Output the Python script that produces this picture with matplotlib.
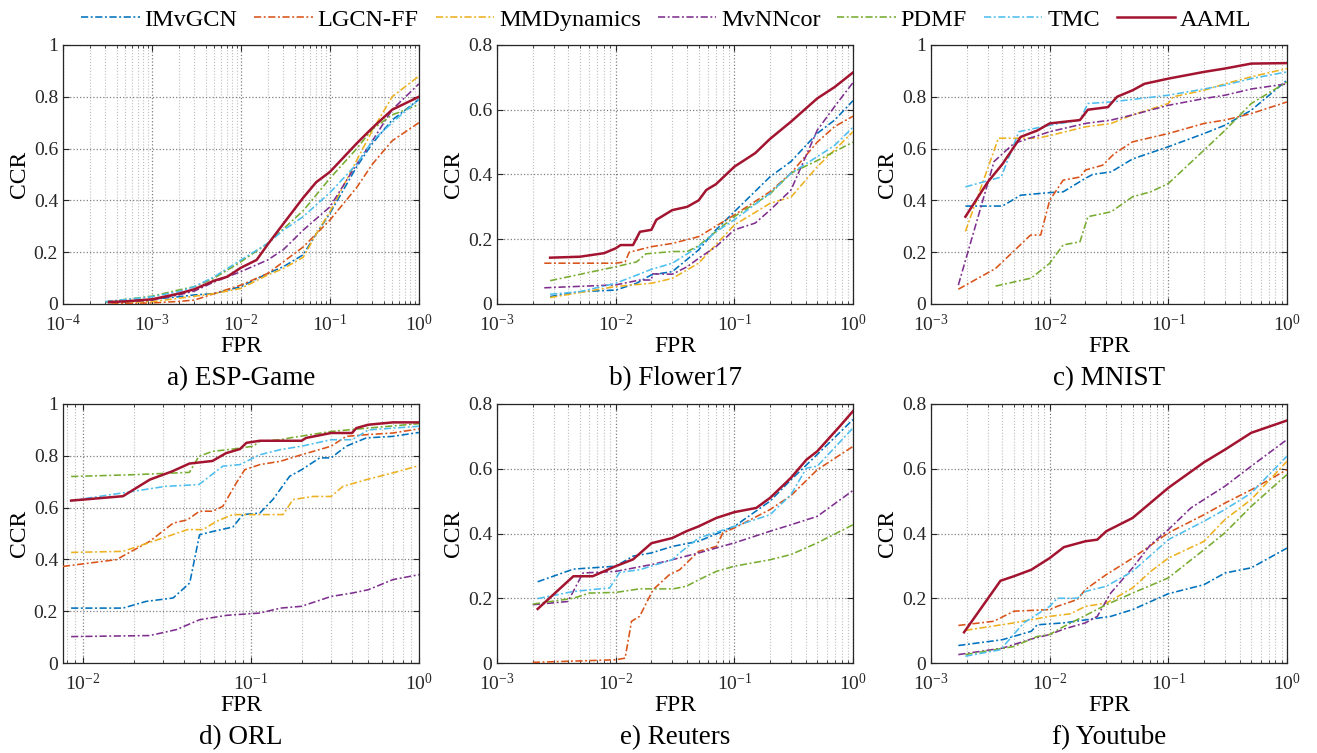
import matplotlib
matplotlib.use("Agg")
import matplotlib.pyplot as plt
import matplotlib.ticker as mticker

plt.rcParams['font.family'] = ['Liberation Serif', 'DejaVu Serif']
plt.rcParams['mathtext.fontset'] = 'stix'

methods = ["IMvGCN", "LGCN-FF", "MMDynamics", "MvNNcor", "PDMF", "TMC", "AAML"]
colors = ["#0072BD", "#D95319", "#EDB120", "#7E2F8E", "#77AC30", "#4DBEEE", "#A2142F"]

#region Data (FPR, CCR) per method
esp = {
    "IMvGCN": ([3e-4, 1e-3, 2e-3, 3e-3, 5e-3, 1e-2, 2e-2, 3e-2, 5e-2, 7e-2, 0.1, 0.2, 0.3, 0.5, 1],
               [0.008, 0.018, 0.028, 0.035, 0.04, 0.067, 0.118, 0.144, 0.19, 0.27, 0.35, 0.53, 0.62, 0.71, 0.79]),
    "LGCN-FF": ([3.5e-4, 1e-3, 2e-3, 3e-3, 5e-3, 1e-2, 2e-2, 3e-2, 5e-2, 0.1, 0.2, 0.3, 0.5, 1],
                [0.002, 0.004, 0.01, 0.015, 0.04, 0.073, 0.118, 0.163, 0.22, 0.324, 0.45, 0.54, 0.63, 0.70]),
    "MMDynamics": ([3.2e-4, 1e-3, 2e-3, 5e-3, 1e-2, 2e-2, 3e-2, 5e-2, 7e-2, 0.1, 0.2, 0.3, 0.5, 1],
                   [0.005, 0.009, 0.022, 0.04, 0.06, 0.112, 0.137, 0.18, 0.27, 0.356, 0.555, 0.67, 0.80, 0.88]),
    "MvNNcor": ([3.2e-4, 1e-3, 2e-3, 3e-3, 5e-3, 1e-2, 2e-2, 3e-2, 5e-2, 0.1, 0.2, 0.3, 0.5, 1],
                [0.005, 0.015, 0.035, 0.05, 0.085, 0.125, 0.17, 0.21, 0.285, 0.375, 0.54, 0.63, 0.75, 0.85]),
    "PDMF": ([3e-4, 1e-3, 2e-3, 3e-3, 5e-3, 1e-2, 2e-2, 3e-2, 5e-2, 0.1, 0.2, 0.3, 0.5, 1],
             [0.008, 0.03, 0.054, 0.067, 0.1, 0.163, 0.234, 0.29, 0.36, 0.485, 0.6, 0.675, 0.73, 0.77]),
    "TMC": ([3e-4, 1e-3, 2e-3, 3e-3, 5e-3, 1e-2, 2e-2, 3e-2, 5e-2, 0.1, 0.2, 0.3, 0.5, 1],
            [0.009, 0.028, 0.048, 0.067, 0.105, 0.17, 0.234, 0.285, 0.337, 0.43, 0.54, 0.63, 0.70, 0.79]),
    "AAML": ([3.3e-4, 5e-4, 1e-3, 2e-3, 3e-3, 5e-3, 7e-3, 1e-2, 1.5e-2, 2e-2, 3e-2, 5e-2, 7e-2, 0.1, 0.2, 0.3, 0.5, 1],
             [0.008, 0.01, 0.018, 0.04, 0.057, 0.09, 0.105, 0.14, 0.17, 0.23, 0.31, 0.41, 0.47, 0.51, 0.62, 0.68, 0.75, 0.80]),
}

flower = {
    "IMvGCN": ([2.8e-3, 5e-3, 1e-2, 1.5e-2, 2e-2, 3e-2, 5e-2, 7e-2, 0.1, 0.2, 0.3, 0.5, 0.7, 1],
               [0.023, 0.038, 0.043, 0.064, 0.09, 0.1, 0.167, 0.229, 0.285, 0.393, 0.44, 0.527, 0.568, 0.628]),
    "LGCN-FF": ([2.5e-3, 1e-2, 1.2e-2, 1.3e-2, 2e-2, 3e-2, 5e-2, 0.1, 0.2, 0.3, 0.5, 0.7, 1],
                [0.126, 0.126, 0.13, 0.16, 0.177, 0.187, 0.208, 0.275, 0.347, 0.404, 0.50, 0.548, 0.58]),
    "MMDynamics": ([2.8e-3, 1e-2, 2e-2, 3e-2, 5e-2, 0.1, 0.2, 0.3, 0.5, 0.7, 1],
                   [0.02, 0.054, 0.064, 0.079, 0.126, 0.244, 0.311, 0.33, 0.424, 0.476, 0.532]),
    "MvNNcor": ([2.5e-3, 1e-2, 1.6e-2, 2e-2, 2.05e-2, 3e-2, 4e-2, 5e-2, 7e-2, 0.1, 0.15, 0.2, 0.3, 0.5, 0.7, 1],
                [0.05, 0.059, 0.074, 0.074, 0.093, 0.092, 0.115, 0.141, 0.177, 0.229, 0.25, 0.29, 0.352, 0.537, 0.61, 0.684]),
    "PDMF": ([2.8e-3, 1e-2, 1.5e-2, 1.8e-2, 3e-2, 4e-2, 5e-2, 0.1, 0.2, 0.3, 0.5, 1],
             [0.072, 0.115, 0.13, 0.155, 0.162, 0.162, 0.18, 0.27, 0.34, 0.404, 0.443, 0.50]),
    "TMC": ([2.8e-3, 5e-3, 1e-2, 2e-2, 3e-2, 5e-2, 7e-2, 0.1, 0.2, 0.3, 0.5, 0.7, 1],
            [0.03, 0.038, 0.064, 0.107, 0.126, 0.177, 0.223, 0.26, 0.342, 0.404, 0.455, 0.49, 0.546]),
    "AAML": ([2.8e-3, 5e-3, 8e-3, 1e-2, 1.1e-2, 1.4e-2, 1.6e-2, 2e-2, 2.2e-2, 3e-2, 4e-2, 5e-2, 5.8e-2, 7e-2, 0.1, 0.15, 0.2, 0.3, 0.5, 0.7, 1],
             [0.143, 0.146, 0.157, 0.172, 0.182, 0.182, 0.223, 0.229, 0.26, 0.29, 0.30, 0.32, 0.352, 0.37, 0.424, 0.466, 0.51, 0.563, 0.635, 0.67, 0.715]),
}

mnist = {
    "IMvGCN": ([1.95e-3, 4e-3, 5.7e-3, 1e-2, 1.3e-2, 2e-2, 2.3e-2, 3.3e-2, 5e-2, 0.1, 0.2, 0.3, 0.5, 1],
               [0.378, 0.378, 0.42, 0.43, 0.433, 0.485, 0.5, 0.51, 0.56, 0.607, 0.658, 0.69, 0.748, 0.864]),
    "LGCN-FF": ([1.7e-3, 3.5e-3, 6.9e-3, 8.4e-3, 1e-2, 1.3e-2, 1.8e-2, 2e-2, 2.8e-2, 3.5e-2, 5e-2, 0.1, 0.2, 0.3, 0.5, 1],
                [0.057, 0.137, 0.266, 0.266, 0.40, 0.478, 0.49, 0.517, 0.536, 0.58, 0.626, 0.658, 0.697, 0.71, 0.735, 0.78]),
    "MMDynamics": ([1.95e-3, 3.7e-3, 7.9e-3, 1e-2, 2e-2, 3.3e-2, 5e-2, 0.1, 0.11, 0.2, 0.3, 0.5, 1],
                   [0.28, 0.64, 0.64, 0.65, 0.684, 0.697, 0.73, 0.774, 0.8, 0.825, 0.85, 0.877, 0.909]),
    "MvNNcor": ([1.7e-3, 3.4e-3, 5e-3, 1e-2, 2e-2, 3.3e-2, 5e-2, 0.1, 0.2, 0.3, 0.5, 1],
                [0.073, 0.55, 0.62, 0.665, 0.697, 0.71, 0.73, 0.767, 0.793, 0.806, 0.83, 0.85]),
    "PDMF": ([3.5e-3, 7e-3, 1e-2, 1.3e-2, 1.8e-2, 2.1e-2, 3.3e-2, 5e-2, 7.1e-2, 0.1, 0.2, 0.3, 0.5, 1],
             [0.069, 0.1, 0.157, 0.228, 0.24, 0.337, 0.356, 0.414, 0.433, 0.465, 0.594, 0.67, 0.774, 0.857]),
    "TMC": ([1.95e-3, 3.9e-3, 5.5e-3, 1e-2, 1.8e-2, 2.1e-2, 3.3e-2, 0.1, 0.2, 0.3, 0.5, 1],
            [0.452, 0.49, 0.665, 0.69, 0.71, 0.774, 0.78, 0.806, 0.83, 0.845, 0.87, 0.896]),
    "AAML": ([1.95e-3, 3e-3, 4e-3, 5.7e-3, 7.9e-3, 1e-2, 1.3e-2, 1.8e-2, 2.1e-2, 3.1e-2, 3.7e-2, 5e-2, 6.3e-2, 0.1, 0.2, 0.3, 0.5, 1],
             [0.337, 0.47, 0.54, 0.645, 0.67, 0.697, 0.703, 0.71, 0.75, 0.76, 0.80, 0.825, 0.85, 0.87, 0.896, 0.909, 0.928, 0.93]),
}

orl = {
    "IMvGCN": ([8.5e-3, 1.73e-2, 2.38e-2, 3.44e-2, 4.32e-2, 4.94e-2, 5.94e-2, 7.8e-2, 8.96e-2, 0.113, 0.135, 0.17, 0.2, 0.257, 0.3, 0.369, 0.486, 0.7, 1],
               [0.212, 0.212, 0.238, 0.251, 0.309, 0.495, 0.508, 0.525, 0.573, 0.579, 0.631, 0.721, 0.746, 0.792, 0.792, 0.837, 0.869, 0.875, 0.89]),
    "LGCN-FF": ([7.6e-3, 1.58e-2, 2.5e-2, 3.44e-2, 4.19e-2, 4.94e-2, 5.94e-2, 6.8e-2, 8.18e-2, 9.17e-2, 0.113, 0.15, 0.2, 0.3, 0.369, 0.5, 0.7, 1],
                [0.373, 0.399, 0.47, 0.54, 0.553, 0.586, 0.586, 0.605, 0.695, 0.746, 0.766, 0.779, 0.804, 0.837, 0.875, 0.882, 0.888, 0.904]),
    "MMDynamics": ([8.5e-3, 1.73e-2, 3e-2, 4.19e-2, 5.18e-2, 6.23e-2, 7.8e-2, 0.155, 0.178, 0.234, 0.3, 0.353, 0.5, 0.7, 1],
                   [0.427, 0.431, 0.483, 0.515, 0.515, 0.547, 0.573, 0.573, 0.631, 0.643, 0.643, 0.682, 0.71, 0.734, 0.762]),
    "MvNNcor": ([8.5e-3, 2.5e-2, 3.6e-2, 4.94e-2, 7.14e-2, 0.113, 0.15, 0.2, 0.3, 0.4, 0.5, 0.7, 1],
                [0.102, 0.106, 0.129, 0.167, 0.184, 0.193, 0.212, 0.219, 0.257, 0.27, 0.283, 0.322, 0.341]),
    "PDMF": ([8.5e-3, 2e-2, 4.3e-2, 4.9e-2, 5.9e-2, 7.8e-2, 0.103, 0.113, 0.15, 0.17, 0.3, 0.5, 1],
             [0.72, 0.727, 0.736, 0.798, 0.817, 0.826, 0.837, 0.856, 0.862, 0.869, 0.894, 0.907, 0.924]),
    "TMC": ([8.5e-3, 2e-2, 3.1e-2, 4.9e-2, 6.8e-2, 8.6e-2, 0.113, 0.15, 0.2, 0.3, 0.4, 0.5, 1],
            [0.627, 0.663, 0.682, 0.689, 0.76, 0.766, 0.804, 0.824, 0.837, 0.862, 0.862, 0.9, 0.914]),
    "AAML": ([8.5e-3, 1.73e-2, 2.5e-2, 3.4e-2, 4.3e-2, 5.9e-2, 7.1e-2, 8.6e-2, 9.4e-2, 0.113, 0.2, 0.213, 0.3, 0.4, 0.424, 0.5, 0.7, 1],
             [0.627, 0.644, 0.708, 0.74, 0.77, 0.78, 0.81, 0.826, 0.85, 0.858, 0.858, 0.869, 0.888, 0.888, 0.907, 0.92, 0.929, 0.929]),
}

reuters = {
    "IMvGCN": ([2.2e-3, 4.4e-3, 1e-2, 1.4e-2, 2e-2, 3e-2, 5e-2, 0.1, 0.2, 0.3, 0.5, 1],
               [0.251, 0.29, 0.299, 0.33, 0.34, 0.36, 0.376, 0.422, 0.5, 0.566, 0.644, 0.752]),
    "LGCN-FF": ([2e-3, 1e-2, 1.2e-2, 1.36e-2, 1.59e-2, 2.07e-2, 2.84e-2, 3.46e-2, 5e-2, 7.05e-2, 8e-2, 0.1, 0.2, 0.3, 0.5, 1],
                [0.002, 0.01, 0.015, 0.129, 0.144, 0.227, 0.273, 0.288, 0.345, 0.36, 0.402, 0.417, 0.474, 0.517, 0.597, 0.669]),
    "MvNNcor": ([2e-3, 3.96e-3, 5.3e-3, 1e-2, 2e-2, 3e-2, 5e-2, 0.1, 0.2, 0.3, 0.5, 1],
                [0.18, 0.19, 0.278, 0.283, 0.304, 0.319, 0.34, 0.371, 0.407, 0.427, 0.453, 0.533]),
    "PDMF": ([2e-3, 4.4e-3, 6e-3, 1e-2, 1.59e-2, 3.04e-2, 3.94e-2, 5e-2, 7.05e-2, 0.1, 0.2, 0.3, 0.5, 1],
             [0.182, 0.2, 0.216, 0.218, 0.229, 0.229, 0.237, 0.257, 0.283, 0.299, 0.319, 0.335, 0.371, 0.427]),
    "TMC": ([2.2e-3, 4.4e-3, 8.9e-3, 1.08e-2, 1.59e-2, 3e-2, 3.46e-2, 5e-2, 0.1, 0.2, 0.3, 0.405, 0.5, 1],
            [0.199, 0.221, 0.232, 0.28, 0.288, 0.319, 0.34, 0.386, 0.422, 0.458, 0.52, 0.602, 0.608, 0.726]),
    "AAML": ([2.2e-3, 4.4e-3, 6.4e-3, 1e-2, 1.4e-2, 2e-2, 3e-2, 3.94e-2, 5e-2, 7.05e-2, 0.1, 0.153, 0.2, 0.3, 0.405, 0.5, 0.773, 1],
             [0.167, 0.268, 0.268, 0.299, 0.32, 0.37, 0.386, 0.407, 0.422, 0.448, 0.466, 0.479, 0.51, 0.572, 0.628, 0.654, 0.731, 0.778]),
}

youtube = {
    "IMvGCN": ([1.7e-3, 4e-3, 7e-3, 7.85e-3, 1.32e-2, 3.27e-2, 5e-2, 0.1, 0.2, 0.3, 0.5, 1],
               [0.054, 0.072, 0.098, 0.118, 0.124, 0.144, 0.165, 0.214, 0.242, 0.278, 0.294, 0.355]),
    "LGCN-FF": ([1.7e-3, 3.38e-3, 5e-3, 1e-2, 1.16e-2, 1.71e-2, 2e-2, 3e-2, 5e-2, 0.1, 0.2, 0.3, 0.5, 1],
                [0.116, 0.129, 0.16, 0.165, 0.175, 0.196, 0.227, 0.273, 0.324, 0.402, 0.458, 0.494, 0.535, 0.597]),
    "MMDynamics": ([1.95e-3, 5e-3, 1e-2, 1.5e-2, 2e-2, 3e-2, 5e-2, 7.11e-2, 0.1, 0.2, 0.3, 0.5, 1],
                   [0.101, 0.124, 0.144, 0.152, 0.175, 0.185, 0.232, 0.283, 0.324, 0.376, 0.443, 0.505, 0.623]),
    "MvNNcor": ([1.7e-3, 4e-3, 7e-3, 1e-2, 1.32e-2, 2e-2, 2.52e-2, 3.27e-2, 5e-2, 7.11e-2, 0.1, 0.155, 0.2, 0.3, 0.5, 1],
                [0.026, 0.046, 0.074, 0.088, 0.105, 0.124, 0.144, 0.216, 0.294, 0.366, 0.412, 0.479, 0.505, 0.546, 0.608, 0.69]),
    "PDMF": ([1.95e-3, 5e-3, 7.85e-3, 1e-2, 1.32e-2, 1.71e-2, 3e-2, 5e-2, 0.1, 0.2, 0.3, 0.5, 1],
             [0.026, 0.051, 0.082, 0.088, 0.113, 0.134, 0.18, 0.216, 0.263, 0.35, 0.402, 0.484, 0.582]),
    "TMC": ([1.95e-3, 3.85e-3, 6.05e-3, 1e-2, 1.16e-2, 1.71e-2, 2e-2, 3e-2, 5e-2, 0.1, 0.2, 0.3, 0.5, 1],
            [0.021, 0.041, 0.124, 0.175, 0.2, 0.2, 0.221, 0.237, 0.283, 0.381, 0.438, 0.474, 0.525, 0.639]),
    "AAML": ([1.9e-3, 3.85e-3, 5e-3, 7e-3, 1e-2, 1.32e-2, 2e-2, 2.52e-2, 3e-2, 5e-2, 0.1, 0.2, 0.3, 0.5, 1],
             [0.095, 0.254, 0.268, 0.288, 0.324, 0.358, 0.376, 0.381, 0.407, 0.448, 0.541, 0.62, 0.659, 0.711, 0.749]),
}
#endregion

panels = [
    (esp, "a) ESP-Game", 1e-4, 1.0),
    (flower, "b) Flower17", 1e-3, 0.8),
    (mnist, "c) MNIST", 1e-3, 1.0),
    (orl, "d) ORL", 7.6e-3, 1.0),
    (reuters, "e) Reuters", 1e-3, 0.8),
    (youtube, "f) Youtube", 1e-3, 0.8),
]

fig = plt.figure(figsize=(13.17, 7.53), dpi=100)
lefts = [0.0478, 0.3774, 0.7069]
bottoms = [0.5963, 0.1195]

handles = []
for i, (data, title, xmin, ymax) in enumerate(panels):
    ax = fig.add_axes([lefts[i % 3], bottoms[i // 3], 0.2703, 0.344])
    for name, col in zip(methods, colors):
        if name not in data:
            continue
        fpr, ccr = data[name]
        if name == "AAML":
            ln, = ax.plot(fpr, ccr, color=col, lw=1.8, ls='-', zorder=5)
        else:
            ln, = ax.plot(fpr, ccr, color=col, lw=1.15, ls=(0, (4.5, 1.6, 1.2, 1.6)), zorder=3)
        if i == 0:
            handles.append(ln)
    ax.set_xscale('log')
    ax.set_xlim(xmin, 1)
    ax.set_ylim(0, ymax)
    ax.set_yticks([v / 10 for v in range(0, int(round(ymax * 10)) + 1, 2)])
    ax.yaxis.set_major_formatter(mticker.FuncFormatter(lambda v, p: "%g" % round(v, 2)))
    ax.xaxis.set_major_locator(mticker.LogLocator(base=10, numticks=10))
    ax.xaxis.set_minor_locator(mticker.LogLocator(base=10, subs=range(2, 10), numticks=50))
    ax.xaxis.set_minor_formatter(mticker.NullFormatter())
    ax.grid(which='major', ls=':', color='0.5', lw=0.9)
    ax.grid(which='minor', axis='x', ls=':', color='0.75', lw=0.8)
    ax.tick_params(which='both', direction='in', top=True, right=True, labelsize=14, colors='0.15')
    ax.tick_params(which='major', length=4)
    ax.tick_params(which='minor', length=2)
    ax.tick_params(axis='x', pad=7)
    for s in ax.spines.values():
        s.set_color('0.15')
        s.set_linewidth(0.9)
    ax.set_xlabel("FPR", fontsize=17, labelpad=1)
    ax.set_ylabel("CCR", fontsize=17, labelpad=3)
    ax.text(0.5, -0.288, title, transform=ax.transAxes, ha='center', va='center', fontsize=19.5)

leg = fig.legend(handles, methods, loc='upper center', bbox_to_anchor=(0.506, 1.008), ncol=7,
                 frameon=False, fontsize=17.5, handlelength=2.4, handletextpad=0.2,
                 columnspacing=0.7, borderpad=0.1)

fig.savefig("out.png", dpi=100)
